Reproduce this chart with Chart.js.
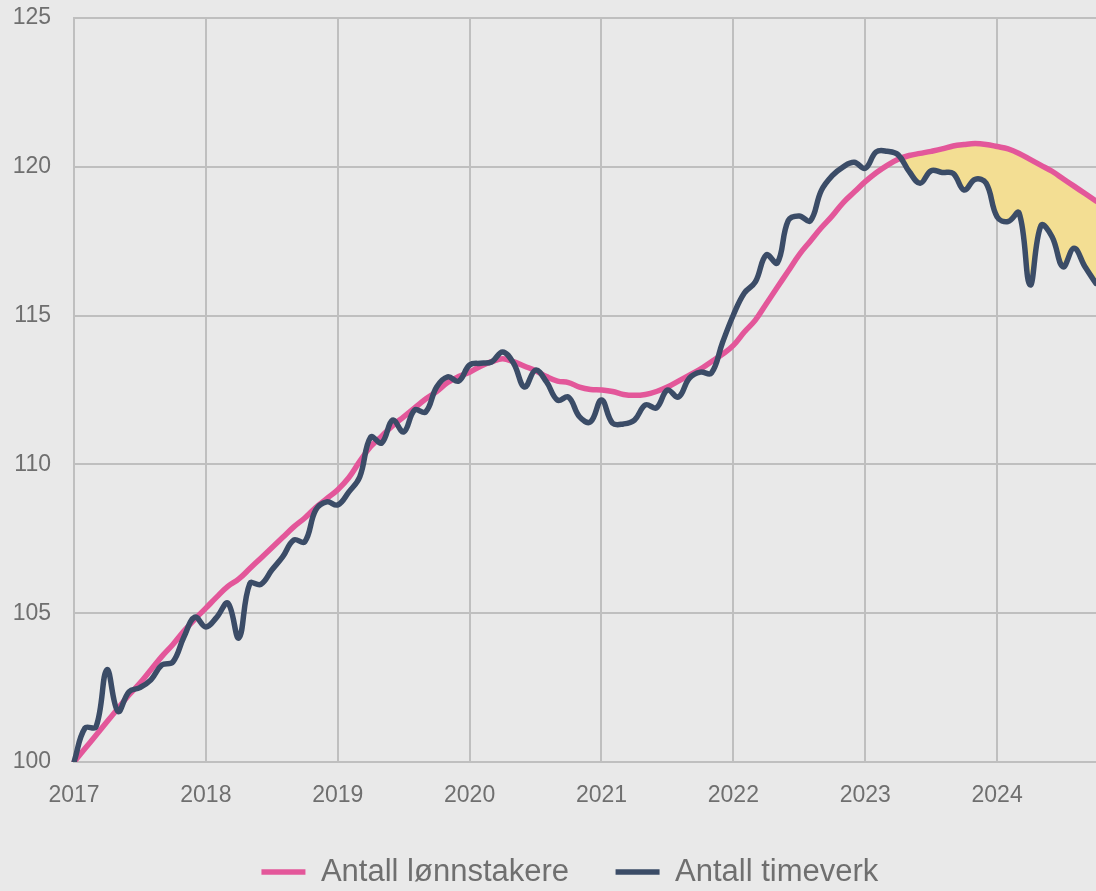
<!DOCTYPE html>
<html><head><meta charset="utf-8">
<script src="https://cdn.jsdelivr.net/npm/chart.js@4.4.1/dist/chart.umd.min.js"></script>
<style>html,body{margin:0;padding:0;background:#e9e9e9;}#wrap{width:1096px;height:891px;position:relative;}</style>
</head><body><div id="wrap"><canvas id="c"></canvas></div>
<script>
// Year tick labels and month codes
const yearTicks = ['2017','2018','2019','2020','2021','2022','2023','2024'];
const monthCodes = ['01','02','03','04','05','06','07','08','09','10','11','12'];

// Antall lønnstakere (index, 2017=100), monthly
const lonnstakere = [
  100.0, 100.45, 100.9, 101.35, 101.8, 102.25, 102.65, 103.1, 103.55, 103.95, 104.4, 104.8,
  105.17, 105.55, 105.9, 106.15, 106.5, 106.85, 107.2, 107.55, 107.9, 108.2, 108.55, 108.85,
  109.15, 109.55, 110.1, 110.6, 110.95, 111.3, 111.6, 111.9, 112.2, 112.45, 112.75, 112.95,
  113.1, 113.3, 113.45, 113.55, 113.45, 113.3, 113.15, 112.95, 112.8, 112.75, 112.6, 112.52,
  112.5, 112.45, 112.35, 112.32, 112.35, 112.45, 112.6, 112.8, 113.0, 113.2, 113.45, 113.7,
  114.0, 114.45, 114.85, 115.4, 115.95, 116.5, 117.05, 117.5, 117.95, 118.35, 118.8, 119.15,
  119.5, 119.8, 120.05, 120.25, 120.38, 120.45, 120.52, 120.6, 120.7, 120.75, 120.78, 120.75,
  120.68, 120.6, 120.45, 120.25, 120.05, 119.85, 119.6, 119.35, 119.1, 118.85
];

// Antall timeverk (index, 2017=100), monthly
const timeverk = [
  100.0, 101.14, 101.18, 103.1, 101.7, 102.36, 102.5, 102.76, 103.26, 103.36, 104.2, 104.87,
  104.54, 104.87, 105.34, 104.17, 106.0, 105.97, 106.45, 106.9, 107.46, 107.4, 108.47, 108.74,
  108.64, 109.07, 109.58, 110.92, 110.72, 111.49, 111.09, 111.83, 111.76, 112.6, 112.94, 112.8,
  113.34, 113.4, 113.44, 113.78, 113.4, 112.6, 113.17, 112.77, 112.16, 112.26, 111.6, 111.43,
  112.16, 111.39, 111.36, 111.49, 112.0, 111.9, 112.5, 112.26, 112.9, 113.1, 113.07, 114.08,
  115.02, 115.76, 116.13, 117.04, 116.77, 118.2, 118.35, 118.18, 119.2, 119.7, 120.0, 120.15,
  119.95, 120.5, 120.52, 120.4, 119.84, 119.45, 119.87, 119.81, 119.78, 119.22, 119.58, 119.45,
  118.32, 118.16, 118.45, 116.03, 118.03, 117.65, 116.64, 117.26, 116.64, 116.08
];

// Shaded gap starts at this month index
const gapStart = 74;

const categories = [];
for (const y of yearTicks) for (const m of monthCodes) categories.push(y + '-' + m);
categories.length = timeverk.length;

const gapTop = lonnstakere.map((v, i) => i >= gapStart ? v : null);
const gapBottom = timeverk.map((v, i) => i >= gapStart ? v : null);

const PINK = '#e3579a';
const DARK = '#3b4c67';
const FILLC = '#f3de93';
const GRID = '#bfbfbf';
const TXT = '#6f6f6f';

Chart.defaults.font.family = "'Liberation Sans', Arial, sans-serif";
Chart.defaults.color = TXT;

// shift the legend so that it is centred like the reference
const legendShift = {
  id: 'legendShift',
  afterLayout(chart) {
    if (chart.legend) { chart.legend.left = 43.8; }
  }
};

new Chart(document.getElementById('c'), {
  type: 'line',
  plugins: [legendShift],
  data: {
    labels: categories,
    datasets: [
      { label: 'Antall lønnstakere', data: lonnstakere, borderColor: PINK, backgroundColor: PINK,
        borderWidth: 5.5, pointRadius: 0, tension: 0.4, fill: false, order: 1, borderCapStyle: 'round' },
      { label: 'Antall timeverk', data: timeverk, borderColor: DARK, backgroundColor: DARK,
        borderWidth: 5.5, pointRadius: 0, tension: 0.4, fill: false, order: 0, borderCapStyle: 'round' },
      { label: '_gapTop', data: gapTop, borderColor: 'rgba(0,0,0,0)', borderWidth: 0, pointRadius: 0,
        tension: 0.4, fill: { target: '+1', above: FILLC, below: 'rgba(0,0,0,0)' }, order: 5 },
      { label: '_gapBottom', data: gapBottom, borderColor: 'rgba(0,0,0,0)', borderWidth: 0, pointRadius: 0,
        tension: 0.4, fill: false, order: 6 }
    ]
  },
  options: {
    responsive: true,
    maintainAspectRatio: false,
    animation: false,
    layout: { padding: { top: 18, left: 12.6, right: 0, bottom: 0 } },
    scales: {
      x: {
        type: 'category',
        grid: { color: GRID, lineWidth: 2, drawTicks: false },
        border: { color: GRID, width: 2 },
        ticks: {
          autoSkip: false, maxRotation: 0, padding: 20, color: TXT, font: { size: 23 },
          callback: function (v, i) { return i % 12 === 0 ? this.getLabelForValue(v).slice(0, 4) : null; }
        },
        afterFit: s => { s.height = 48; }
      },
      y: {
        min: 100, max: 125,
        grid: { color: GRID, lineWidth: 2, drawTicks: true, tickLength: 23, tickColor: 'rgba(0,0,0,0)' },
        border: { color: GRID, width: 2 },
        ticks: { stepSize: 5, padding: 0, color: TXT, font: { size: 23 } },
        afterFit: s => { s.width = 61.4; }
      }
    },
    plugins: {
      tooltip: { enabled: false },
      legend: {
        position: 'bottom',
        maxHeight: 81,
        labels: {
          usePointStyle: true, pointStyle: 'line', pointStyleWidth: 44, padding: 46.5,
          color: TXT, font: { size: 31 },
          filter: item => !item.text.startsWith('_'),
          sort: (a, b) => a.datasetIndex - b.datasetIndex
        }
      }
    }
  }
});
</script>
</body></html>
